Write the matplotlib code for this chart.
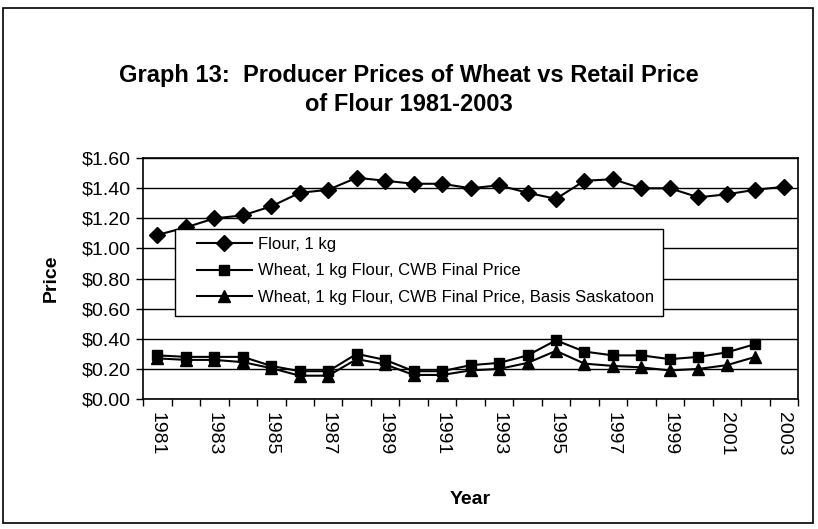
import matplotlib.pyplot as plt
from matplotlib.ticker import FuncFormatter, MultipleLocator

years = list(range(1981, 2004))
flour = [1.09, 1.14, 1.20, 1.22, 1.28, 1.37, 1.39, 1.47, 1.45, 1.43, 1.43, 1.40,
         1.42, 1.37, 1.33, 1.45, 1.46, 1.40, 1.40, 1.34, 1.36, 1.39, 1.41]
# wheat series stop at 2002
wheat_cwb = [0.29, 0.28, 0.28, 0.28, 0.22, 0.185, 0.185, 0.30, 0.26, 0.185, 0.185, 0.225,
             0.24, 0.29, 0.39, 0.315, 0.29, 0.29, 0.265, 0.28, 0.31, 0.365]
wheat_sask = [0.27, 0.26, 0.26, 0.245, 0.205, 0.155, 0.155, 0.265, 0.23, 0.16, 0.16, 0.19,
              0.20, 0.24, 0.32, 0.235, 0.22, 0.21, 0.19, 0.20, 0.225, 0.28]
labels = ['Flour, 1 kg', 'Wheat, 1 kg Flour, CWB Final Price',
          'Wheat, 1 kg Flour, CWB Final Price, Basis Saskatoon']

plt.rcParams['font.family'] = ['Liberation Sans', 'DejaVu Sans']

fig = plt.figure(figsize=(8.18, 5.29), dpi=100)
# outer chart border
fig.patches.append(plt.Rectangle((0.004, 0.011), 0.99, 0.974, transform=fig.transFigure,
                                 fill=False, edgecolor='black', linewidth=1.2))
ax = fig.add_axes([0.175, 0.2457, 0.8006, 0.4553])

x = list(range(len(years)))
ax.plot(x, flour, color='black', lw=1.5, marker='D', ms=8, label=labels[0])
ax.plot(x[:len(wheat_cwb)], wheat_cwb, color='black', lw=1.5, marker='s', ms=7, label=labels[1])
ax.plot(x[:len(wheat_sask)], wheat_sask, color='black', lw=1.5, marker='^', ms=8.5, label=labels[2])

ax.set_xlim(-0.5, len(years) - 0.5)
ax.set_ylim(0, 1.6)
ax.yaxis.set_major_locator(MultipleLocator(0.2))
ax.yaxis.set_major_formatter(FuncFormatter(lambda v, p: '${:.2f}'.format(v)))
ax.grid(axis='y', color='black', lw=1)
ax.set_axisbelow(True)

ax.set_xticks(x[::2])
ax.set_xticklabels([str(y) for y in years[::2]], rotation=-90)
ax.set_xticks([i - 0.5 for i in range(len(years) + 1)], minor=True)
ax.tick_params(axis='x', which='major', length=0, labelsize=14, pad=9)
ax.tick_params(axis='x', which='minor', length=5, direction='out', width=1)
ax.tick_params(axis='y', length=5, direction='out', width=1, labelsize=14, pad=4)
for s in ax.spines.values():
    s.set_linewidth(1.2)

ax.set_ylabel('Price', fontsize=14, fontweight='bold', labelpad=16)
ax.set_xlabel('Year', fontsize=14, fontweight='bold', labelpad=26)

fig.text(0.5, 0.83, 'Graph 13:  Producer Prices of Wheat vs Retail Price\nof Flour 1981-2003',
         ha='center', va='center', fontsize=17, fontweight='bold', linespacing=1.35)

# legend box drawn separately so the inner padding can follow the original
ax.add_patch(plt.Rectangle((0.049, 0.344), 0.745, 0.361, transform=ax.transAxes,
                           facecolor='white', edgecolor='black', lw=1, zorder=4))
leg = ax.legend(loc='upper left', bbox_to_anchor=(0.082, 0.674), fontsize=12, frameon=False,
                borderpad=0, labelspacing=0.7, handlelength=3.3, handletextpad=0.35,
                borderaxespad=0)
leg.set_zorder(5)

fig.savefig('out.png', dpi=100)
